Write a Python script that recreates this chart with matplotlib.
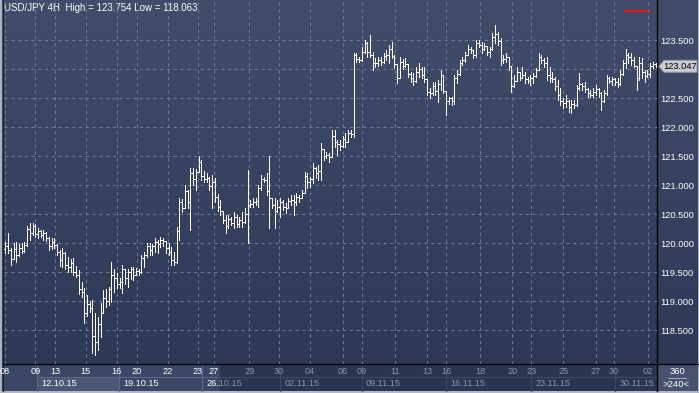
import numpy as np
import matplotlib
matplotlib.use("Agg")
import matplotlib.pyplot as plt
from matplotlib.colors import LinearSegmentedColormap
from matplotlib.patches import Rectangle, Polygon

plt.rcParams['font.family'] = ['Liberation Sans', 'DejaVu Sans']

TITLE = "USD/JPY 4H  High = 123.754 Low = 118.063"

# 4H bars (open of each bar = previous close)
first_open = 119.90
closes = [
    119.95, 119.88, 119.72, 119.90, 119.80, 119.92, 119.86, 119.97, 120.25, 120.18,
    120.30, 120.15, 120.20, 120.13, 120.18, 120.08, 119.95, 120.02, 119.96, 119.85,
    119.70, 119.82, 119.62, 119.58, 119.66, 119.50, 119.45, 119.20, 119.15, 118.80,
    118.95, 118.88, 118.40, 118.30, 118.60, 118.80, 119.05, 119.00, 119.20, 119.45,
    119.40, 119.30, 119.33, 119.55, 119.40, 119.50, 119.55, 119.45, 119.52, 119.50,
    119.75, 119.80, 119.95, 119.88, 119.95, 120.02, 119.98, 120.05, 120.03, 119.92,
    119.85, 119.70, 119.68, 120.20, 120.70, 120.60, 120.90, 120.70, 121.20, 121.10,
    121.22, 121.40, 121.15, 121.10, 121.12, 120.98, 121.05, 120.80, 120.62, 120.55,
    120.40, 120.30, 120.42, 120.35, 120.45, 120.32, 120.40, 120.36, 120.50, 120.65,
    120.68, 120.70, 120.72, 120.95, 121.10, 121.08, 120.90, 120.78, 120.65, 120.55,
    120.62, 120.70, 120.62, 120.60, 120.72, 120.75, 120.70, 120.80, 120.78, 120.86,
    121.15, 121.05, 121.10, 121.30, 121.20, 121.25, 121.62, 121.50, 121.52, 121.48,
    121.85, 121.75, 121.70, 121.68, 121.80, 121.75, 121.90, 121.88, 123.25, 123.18,
    123.15, 123.30, 123.45, 123.30, 123.25, 123.10, 123.10, 123.15, 123.12, 123.22,
    123.25, 123.35, 123.22, 123.08, 122.85, 123.12, 123.05, 123.08, 122.92, 122.85,
    122.80, 122.95, 123.00, 122.90, 122.82, 122.60, 122.58, 122.70, 122.62, 122.75,
    122.90, 122.62, 122.45, 122.50, 122.45, 122.85, 122.92, 123.10, 123.15, 123.25,
    123.35, 123.32, 123.25, 123.45, 123.42, 123.35, 123.40, 123.30, 123.35, 123.55,
    123.60, 123.48, 123.15, 123.18, 123.20, 123.05, 122.70, 122.80, 122.95, 122.85,
    122.90, 122.82, 122.80, 122.85, 122.88, 122.98, 123.20, 123.15, 123.10, 122.90,
    122.85, 122.82, 122.70, 122.55, 122.45, 122.42, 122.45, 122.35, 122.40, 122.38,
    122.68, 122.75, 122.70, 122.65, 122.58, 122.56, 122.60, 122.65, 122.58, 122.45,
    122.58, 122.85, 122.80, 122.82, 122.78, 122.75, 122.92, 123.10, 123.25, 123.20,
    123.15, 123.05, 122.85, 123.10, 122.95, 122.88, 122.92, 123.05, 123.08, 123.047,
]
highs = [
    120.02, 120.17, 119.91, 120.00, 120.02, 119.98, 120.00, 120.02, 120.30, 120.34,
    120.35, 120.32, 120.26, 120.22, 120.22, 120.19, 120.10, 120.08, 120.09, 119.98,
    119.88, 119.91, 119.85, 119.76, 119.72, 119.74, 119.60, 119.53, 119.32, 119.22,
    119.10, 119.00, 119.02, 118.79, 118.72, 118.97, 119.19, 119.20, 119.24, 119.67,
    119.55, 119.48, 119.40, 119.62, 119.53, 119.55, 119.59, 119.58, 119.57, 119.56,
    119.79, 119.85, 120.00, 120.00, 119.98, 120.09, 120.06, 120.10, 120.08, 120.02,
    120.00, 119.93, 119.85, 120.27, 120.78, 120.76, 121.00, 120.91, 121.29, 121.30,
    121.28, 121.50, 121.43, 121.25, 121.20, 121.14, 121.17, 121.12, 120.85, 120.74,
    120.52, 120.48, 120.48, 120.45, 120.53, 120.48, 120.45, 120.53, 120.60, 121.26,
    120.74, 120.78, 120.78, 121.00, 121.17, 121.14, 121.20, 121.50, 120.74, 120.78,
    120.74, 120.78, 120.74, 120.69, 120.78, 120.83, 120.83, 120.86, 120.83, 120.91,
    121.22, 121.20, 121.14, 121.38, 121.31, 121.34, 121.72, 121.60, 121.57, 121.55,
    121.95, 121.95, 121.78, 121.78, 121.85, 121.90, 121.95, 121.95, 123.28, 123.28,
    123.21, 123.38, 123.50, 123.47, 123.59, 123.30, 123.19, 123.20, 123.21, 123.28,
    123.33, 123.41, 123.47, 123.24, 123.08, 123.21, 123.18, 123.19, 123.08, 122.95,
    122.93, 123.03, 123.10, 123.03, 123.03, 122.82, 122.67, 122.78, 122.78, 122.81,
    122.98, 122.90, 122.62, 122.52, 122.52, 122.90, 122.98, 123.16, 123.21, 123.29,
    123.41, 123.38, 123.33, 123.50, 123.50, 123.47, 123.45, 123.40, 123.38, 123.62,
    123.754, 123.64, 123.53, 123.24, 123.28, 123.20, 123.02, 122.90, 123.03, 122.95,
    123.03, 122.95, 122.86, 122.90, 122.93, 123.02, 123.28, 123.24, 123.19, 123.21,
    123.03, 122.95, 122.86, 122.81, 122.67, 122.50, 122.55, 122.47, 122.47, 122.47,
    122.72, 122.93, 122.76, 122.78, 122.67, 122.64, 122.67, 122.72, 122.67, 122.60,
    122.64, 122.90, 122.86, 122.86, 122.84, 122.84, 122.98, 123.16, 123.35, 123.28,
    123.28, 123.21, 123.03, 123.21, 123.19, 122.98, 122.98, 123.10, 123.12, 123.10,
]
lows = [
    119.83, 119.83, 119.62, 119.72, 119.68, 119.78, 119.83, 119.84, 119.95, 120.05,
    120.14, 120.10, 120.08, 120.10, 120.06, 120.04, 119.88, 119.90, 119.91, 119.79,
    119.60, 119.59, 119.55, 119.50, 119.50, 119.45, 119.41, 119.12, 119.07, 118.62,
    118.75, 118.81, 118.10, 118.063, 118.15, 118.38, 118.81, 118.90, 118.93, 118.98,
    119.15, 119.22, 119.22, 119.14, 119.30, 119.24, 119.38, 119.36, 119.45, 119.45,
    119.48, 119.58, 119.76, 119.80, 119.79, 119.85, 119.83, 119.93, 119.95, 119.83,
    119.80, 119.62, 119.62, 119.65, 120.05, 120.53, 120.62, 120.60, 120.22, 121.00,
    120.91, 121.22, 121.09, 121.05, 121.05, 120.91, 120.60, 120.71, 120.55, 120.48,
    120.34, 120.17, 120.26, 120.31, 120.26, 120.28, 120.28, 120.28, 120.34, 120.00,
    120.62, 120.62, 120.66, 120.62, 120.91, 121.05, 120.83, 120.26, 120.60, 120.26,
    120.53, 120.45, 120.57, 120.52, 120.60, 120.66, 120.48, 120.66, 120.71, 120.79,
    120.86, 120.95, 120.97, 121.03, 121.12, 121.09, 121.09, 121.43, 121.47, 121.40,
    121.60, 121.66, 121.52, 121.60, 121.65, 121.66, 121.78, 121.83, 121.83, 123.12,
    123.12, 123.14, 123.28, 123.21, 123.21, 122.98, 123.03, 123.05, 123.07, 123.10,
    123.16, 123.10, 123.19, 123.02, 122.76, 122.85, 123.00, 123.03, 122.86, 122.78,
    122.72, 122.78, 122.86, 122.84, 122.78, 122.55, 122.50, 122.55, 122.55, 122.43,
    122.64, 122.59, 122.21, 122.40, 122.38, 122.40, 122.76, 122.90, 123.07, 123.12,
    123.24, 123.28, 123.19, 123.21, 123.38, 123.28, 123.33, 123.24, 123.21, 123.33,
    123.45, 123.41, 123.07, 123.10, 123.12, 122.98, 122.60, 122.69, 122.80, 122.81,
    122.84, 122.76, 122.76, 122.72, 122.76, 122.86, 122.98, 123.10, 123.03, 122.81,
    122.78, 122.78, 122.64, 122.47, 122.38, 122.33, 122.34, 122.26, 122.24, 122.33,
    122.36, 122.64, 122.64, 122.60, 122.52, 122.52, 122.52, 122.55, 122.52, 122.29,
    122.43, 122.55, 122.76, 122.72, 122.72, 122.69, 122.72, 122.90, 123.02, 123.10,
    123.07, 123.03, 122.64, 122.81, 122.84, 122.78, 122.86, 122.86, 123.02, 123.03,
]

price_ticks = [118.5, 119.0, 119.5, 120.0, 120.5, 121.0, 121.5, 122.0, 122.5, 123.0, 123.5]
day_pos = [-0.3, 11, 18.3, 29.6, 41, 48.4, 59.8, 70.8, 76.7, 89.6, 100.6, 112,
           124.1, 131.1, 143.3, 155, 162, 174.5, 186.3, 193.3, 205.1, 217.1, 223.7, 236.2]
day_labels = ["08", "09", "13", "15", "16", "20", "22", "23", "27", "29", "30", "04",
              "06", "09", "11", "13", "16", "18", "20", "23", "25", "27", "30", "02"]
week_pos = [11.7, 41.8, 72.3, 101, 131.1, 162, 193.3, 224.2]
week_labels = ["12.10.15", "19.10.15", "26.10.15", "02.11.15",
               "09.11.15", "16.11.15", "23.11.15", "30.11.15"]
last_price = 123.047

W, H = 699, 393
PX_L, PX_R, PX_B = 4, 657, 364   # plot box in pixels
DARK_X = 220                     # where the dark part of the date strip starts
LIGHT_TXT, DIM_TXT = "#ffffff", "#8893aa"

fig = plt.figure(figsize=(W / 100, H / 100), dpi=100)

# background layer in pixel coordinates
bg = fig.add_axes([0, 0, 1, 1])
bg.set_xlim(0, W)
bg.set_ylim(H, 0)
bg.axis("off")
cmap = LinearSegmentedColormap.from_list("bg", ["#414d6a", "#2b3755"])
bg.imshow(np.linspace(0, 1, 256)[:, None], cmap=cmap, extent=[0, W, H, 0], aspect="auto")

# date strip
bg.add_patch(Rectangle((PX_L, PX_B), DARK_X - PX_L, 391 - PX_B, fc="#3b4764", ec="none"))
bg.add_patch(Rectangle((DARK_X, PX_B), PX_R - DARK_X, 391 - PX_B, fc="#2a3551", ec="none"))
bg.add_patch(Rectangle((PX_R, PX_B), W - PX_R, 391 - PX_B, fc="#46526e", ec="none"))

ax = fig.add_axes([PX_L / W, (H - PX_B) / H, (PX_R - PX_L) / W, PX_B / H])
ax.set_facecolor("none")
ax.set_xlim(-0.5, len(closes) - 0.5)
ax.set_ylim(117.914, 124.19)


def to_px(xv, yv):
    dx, dy = ax.transData.transform((xv, yv))
    return dx, H - dy


week_px = [to_px(w, 120)[0] for w in week_pos]
# first week box is highlighted
bg.add_patch(Rectangle((week_px[0], 377), week_px[1] - week_px[0], 14, fc="#4b5774", ec="none"))
for wx in week_px:
    col = "#5c6884" if wx < DARK_X else "#3c4864"
    bg.plot([wx, wx], [PX_B, 391], color=col, lw=0.8)
bg.plot([week_px[0], DARK_X], [377, 377], color="#5c6884", lw=0.8)
bg.plot([DARK_X, PX_R], [377, 377], color="#3c4864", lw=0.8)

light_clip = Rectangle((0, 0), DARK_X, H, transform=bg.transData)
dark_clip = Rectangle((DARK_X, 0), PX_R - DARK_X, H, transform=bg.transData)
for wx, lab in zip(week_px, week_labels):
    for col, clip in ((LIGHT_TXT, light_clip), (DIM_TXT, dark_clip)):
        t = bg.text(wx + 4, 384, lab, color=col, fontsize=6.6, ha="left", va="center")
        t.set_clip_path(clip)
        t.set_clip_on(True)

# frame lines
bg.plot([PX_R, PX_R], [0, 391], color="black", lw=1.0)
bg.plot([PX_L, W], [PX_B, PX_B], color="black", lw=1.0)
bg.add_patch(Rectangle((0, 0), 2, H, fc="#aab1c0", ec="none"))
bg.plot([2.5, 2.5], [0, 391], color="#1c2436", lw=0.8)
bg.add_patch(Rectangle((0, 391), W, 2, fc="#b3b8c4", ec="none"))
bg.add_patch(Rectangle((W - 1.5, 0), 1.5, H, fc="#aab1c0", ec="none"))

# corner box
bg.text(677, 372, "360", color="white", fontsize=6.8, ha="center", va="center")
bg.plot([668, 686], [378, 378], color="#9aa4b8", lw=0.8)
bg.text(676, 384.5, ">240<", color="white", fontsize=6.8, ha="center", va="center")

# title and red marker
bg.text(4, 8, TITLE, color="white", fontsize=7, ha="left", va="center")
bg.plot([624, 651], [11, 11], color="#e21a1a", lw=1.6, solid_capstyle="butt")

# price bars
x = np.arange(len(closes))
c = np.array(closes)
o = np.r_[first_open, c[:-1]]
hi = np.maximum(np.array(highs), np.maximum(o, c))
lo = np.minimum(np.array(lows), np.minimum(o, c))
bar_col = "#fffaf4"
ax.vlines(x, lo, hi, color=bar_col, lw=0.72, antialiased=False, zorder=3)
ax.hlines(o, x - 0.38, x, color=bar_col, lw=0.72, antialiased=False, zorder=3)
ax.hlines(c, x, x + 0.38, color=bar_col, lw=0.72, antialiased=False, zorder=3)

# axes, ticks, grid
for s in ax.spines.values():
    s.set_visible(False)
ax.yaxis.tick_right()
# the label hidden behind the last-price box is left blank
ax.set_yticks(price_ticks, ["" if abs(p - last_price) < 0.2 else f"{p:.3f}" for p in price_ticks])
ax.tick_params(axis="y", length=0, pad=2.5, labelsize=6.7, labelcolor="white")
ax.set_xticks(day_pos, day_labels)
ax.tick_params(axis="x", length=0, pad=2.5, labelsize=6.6)
for lab, pos in zip(ax.get_xticklabels(), day_pos):
    lab.set_color(LIGHT_TXT if to_px(pos, 120)[0] < DARK_X else DIM_TXT)
ax.grid(True, color="#6b7b9c", linestyle=(0, (3, 3.5)), lw=0.75)
ax.set_axisbelow(True)

# last price marker
_, ly = to_px(0, last_price)
bg.add_patch(Polygon([(659, ly), (664, ly - 6), (697, ly - 6), (697, ly + 6), (664, ly + 6)],
                     closed=True, fc="#c9ccd3", ec="#8f96a6", lw=0.7, zorder=5))
bg.text(680.5, ly, f"{last_price:.3f}", color="black", fontsize=6.7, ha="center", va="center", zorder=6)

fig.savefig("out.png", dpi=100)
